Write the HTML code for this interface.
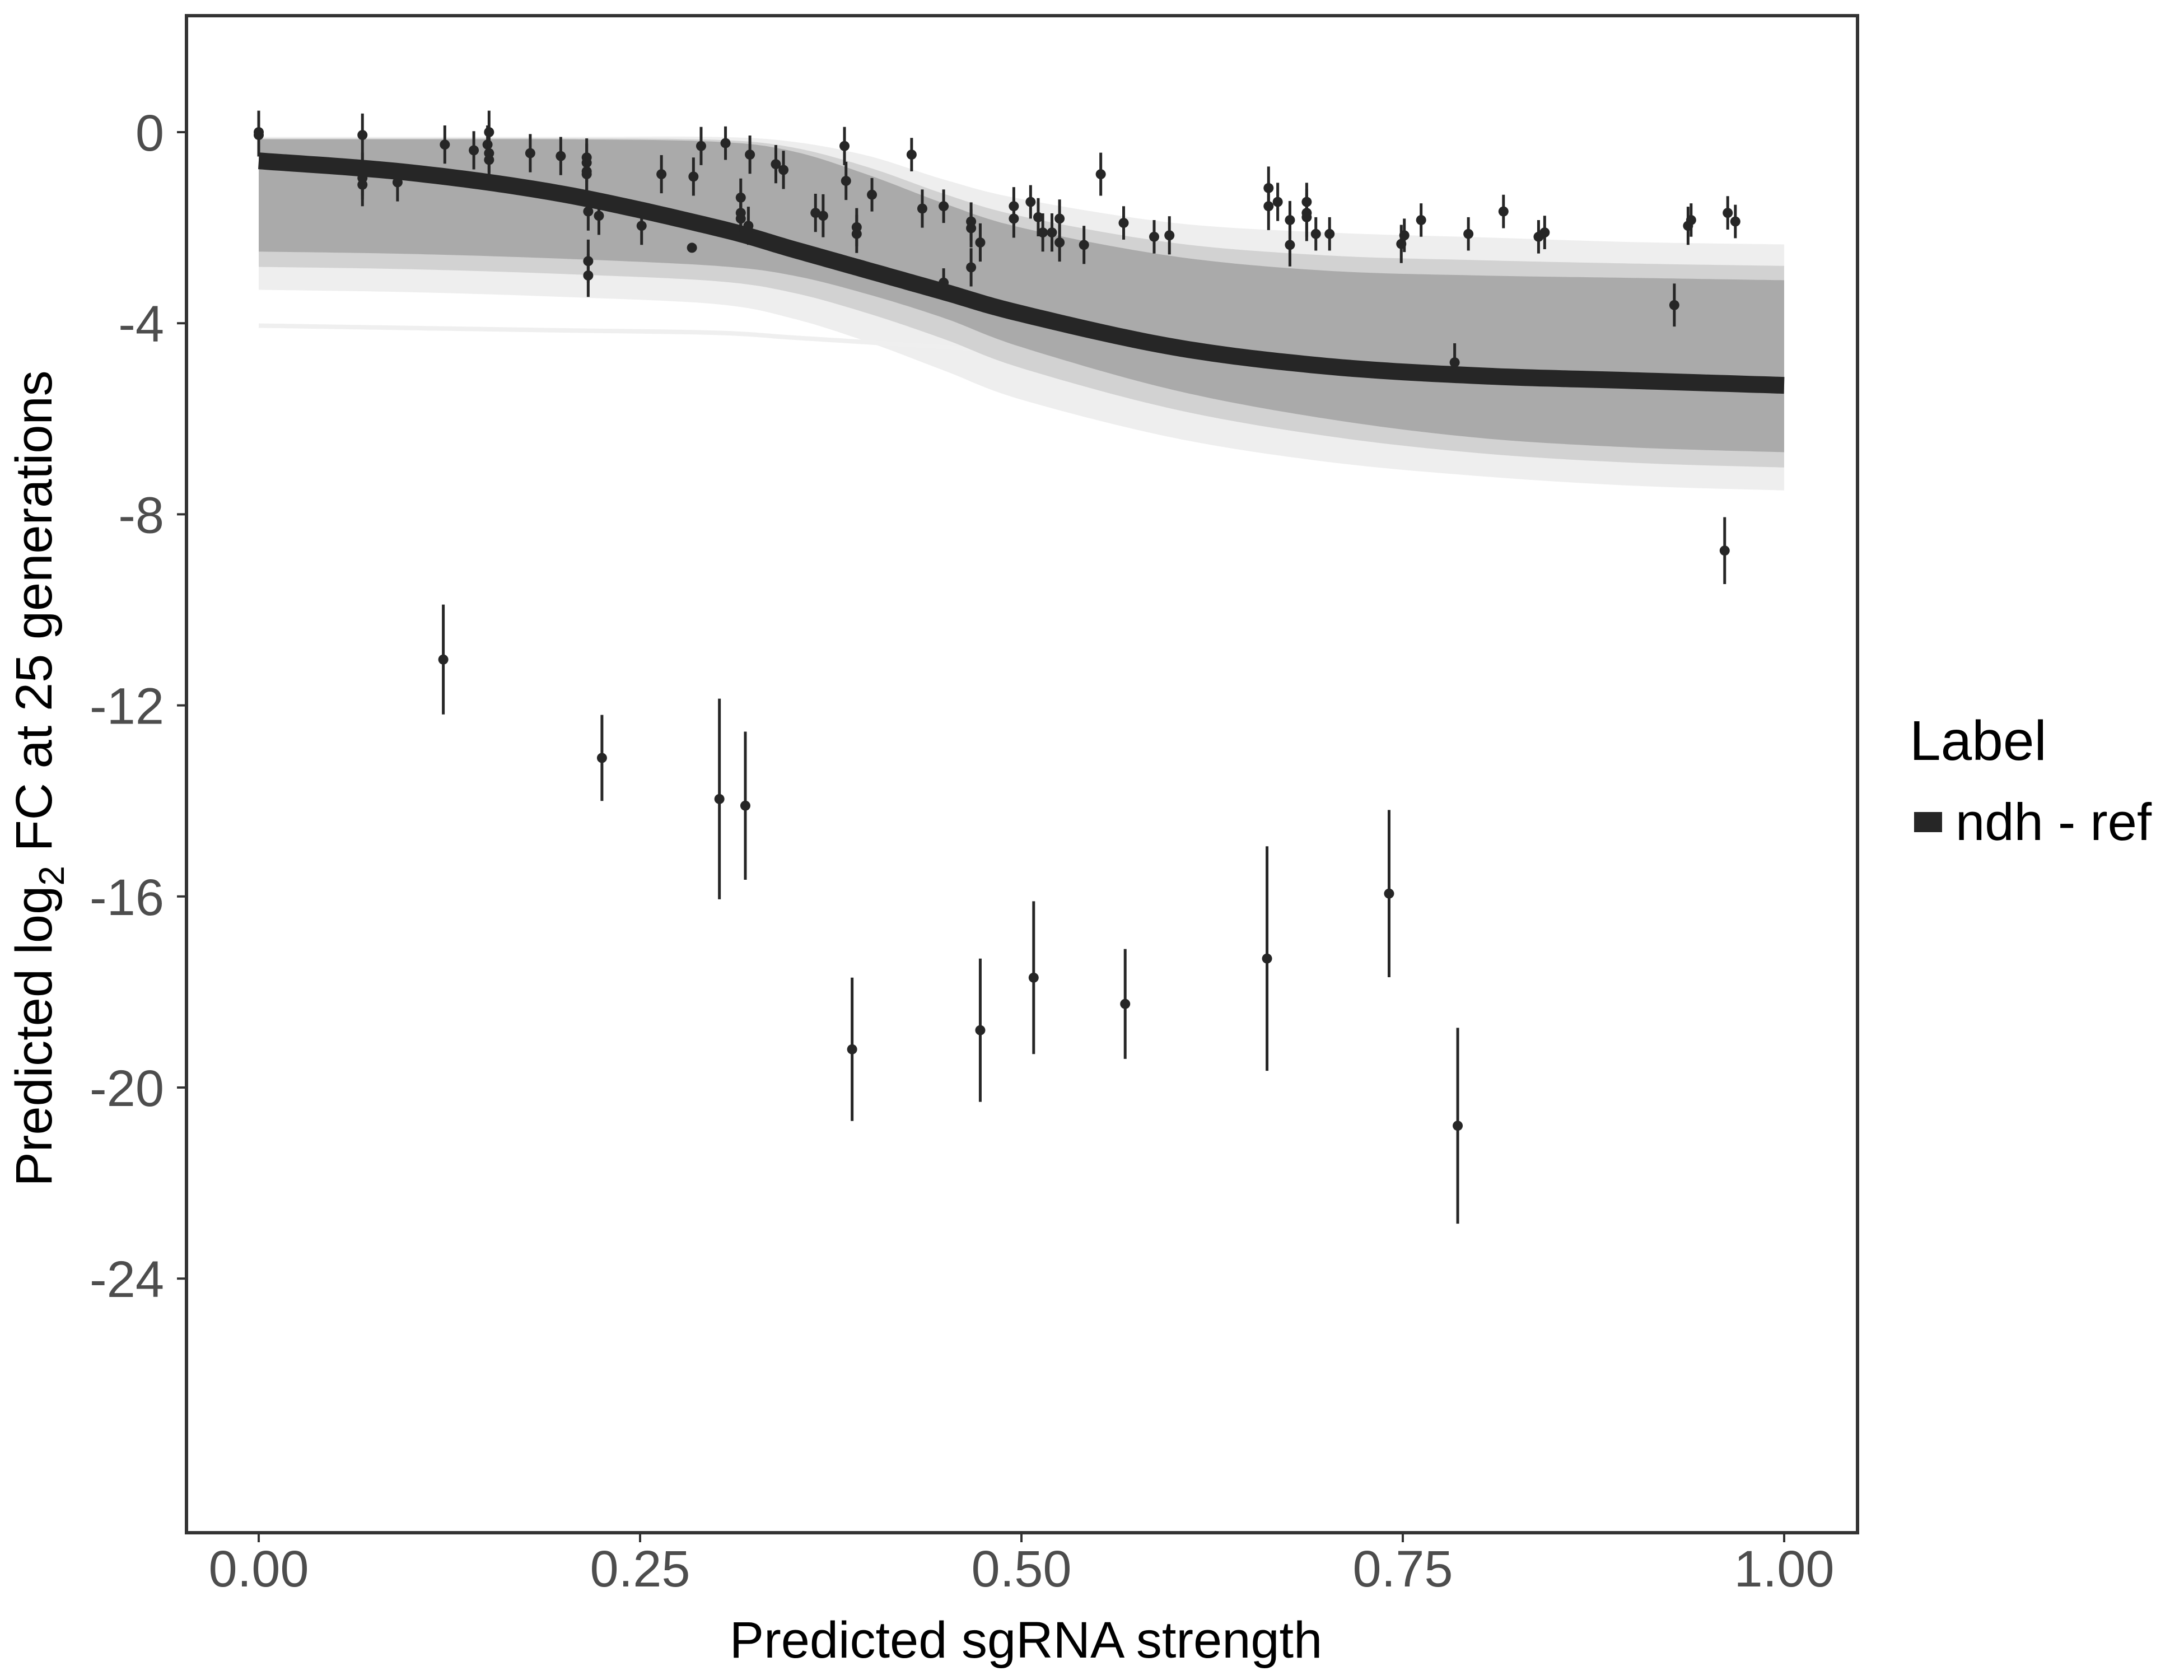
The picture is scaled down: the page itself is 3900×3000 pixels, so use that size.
<!DOCTYPE html>
<html><head><meta charset="utf-8"><style>
html,body{margin:0;padding:0;background:#fff}
svg{display:block;font-family:"Liberation Sans",sans-serif}
</style></head><body>
<svg id="chart" width="3900" height="3000" viewBox="0 0 3900 3000" xmlns="http://www.w3.org/2000/svg">
<defs><clipPath id="clip"><rect x="333" y="28" width="2984" height="2709"/></clipPath></defs>
<rect x="0" y="0" width="3900" height="3000" fill="#fff"/>
<g id="plot" clip-path="url(#clip)"></g>
<rect x="333" y="28" width="2984" height="2709" fill="none" stroke="#333" stroke-width="6"/>
<g id="axes"></g>
<text x="1832" y="2960" font-size="92" text-anchor="middle" fill="#000">Predicted sgRNA strength</text>
<text transform="translate(92,1390) rotate(-90)" font-size="92" text-anchor="middle" fill="#000">Predicted  log<tspan font-size="64" dy="22">2</tspan><tspan dy="-22"> FC at 25 generations</tspan></text>
<text x="3410" y="1357" font-size="100" fill="#000">Label</text>
<rect x="3418" y="1450" width="50" height="36" fill="#262626"/>
<text x="3492" y="1500" font-size="94" fill="#000">ndh - ref</text>
</svg>
<script>
const xTicks=[0,0.25,0.5,0.75,1];
const xTickLabels=["0.00","0.25","0.50","0.75","1.00"];
const yTicks=[0,-4,-8,-12,-16,-20,-24];
const yTickLabels=["0","-4","-8","-12","-16","-20","-24"];
const bandX=[0,0.1,0.2,0.3,0.35,0.4,0.45,0.5,0.6,0.7,0.8,0.9,1.0];
const upperFaint=[-0.1,-0.1,-0.1,-0.1,-0.2,-0.5,-1.0,-1.4,-1.9,-2.1,-2.2,-2.3,-2.35];
const upperDense=[-0.15,-0.15,-0.15,-0.2,-0.4,-0.9,-1.5,-2.0,-2.6,-2.9,-3.0,-3.05,-3.1];
const lowerDense=[-2.5,-2.55,-2.65,-2.8,-3.0,-3.4,-3.9,-4.5,-5.4,-6.0,-6.4,-6.6,-6.7];
const lowerFaint=[-3.3,-3.35,-3.45,-3.6,-3.9,-4.4,-5.0,-5.6,-6.4,-6.9,-7.2,-7.4,-7.5];
const strayLine=[-4.05,-4.1,-4.15,-4.2,-4.3,-4.4,-4.5,-4.6,-4.8,-5.0,-5.2,-5.3,-5.4];
const meanLine=[-0.6,-0.85,-1.3,-2.0,-2.45,-2.9,-3.35,-3.8,-4.5,-4.9,-5.1,-5.2,-5.3];
const ptX=[0,0,0.068,0.068,0.068,0.068,0.091,0.122,0.141,0.15,0.151,0.151,0.151,0.178,0.198,0.215,0.215,0.215,0.215,0.216,0.216,0.216,0.223,0.251,0.264,0.285,0.284,0.29,0.306,0.316,0.316,0.316,0.321,0.322,0.339,0.344,0.365,0.37,0.384,0.385,0.392,0.392,0.402,0.428,0.435,0.449,0.449,0.467,0.467,0.467,0.473,0.495,0.495,0.506,0.511,0.514,0.52,0.525,0.525,0.541,0.552,0.567,0.587,0.597,0.662,0.662,0.668,0.676,0.676,0.687,0.687,0.687,0.693,0.702,0.749,0.751,0.762,0.784,0.793,0.816,0.839,0.843,0.928,0.937,0.939,0.963,0.968,0.961,
0.121,0.225,0.302,0.319,0.389,0.473,0.508,0.568,0.661,0.741,0.786];
const ptY=[0,-0.06,-0.06,-0.96,-1.1,-0.88,-1.05,-0.26,-0.38,-0.26,0,-0.44,-0.58,-0.44,-0.5,-0.53,-0.64,-0.82,-0.88,-2.7,-3.0,-1.66,-1.75,-1.96,-0.88,-0.93,-2.42,-0.29,-0.23,-1.37,-1.69,-1.81,-1.96,-0.47,-0.67,-0.79,-1.69,-1.75,-0.29,-1.02,-1.99,-2.13,-1.31,-0.47,-1.6,-1.55,-3.15,-1.87,-2.01,-2.83,-2.31,-1.55,-1.81,-1.46,-1.78,-2.1,-2.1,-1.81,-2.31,-2.36,-0.88,-1.9,-2.19,-2.16,-1.17,-1.55,-1.46,-1.84,-2.36,-1.46,-1.69,-1.78,-2.13,-2.13,-2.34,-2.16,-1.84,-4.82,-2.13,-1.66,-2.19,-2.1,-3.62,-1.96,-1.84,-1.69,-1.87,-8.76,
-11.04,-13.1,-13.96,-14.1,-19.2,-18.8,-17.7,-18.25,-17.3,-15.94,-20.8];
const ptErr=[0.45,0.45,0.45,0.45,0.45,0.45,0.4,0.4,0.4,0.4,0.45,0.4,0.4,0.4,0.4,0.4,0.4,0.4,0.4,0.45,0.45,0.4,0.4,0.4,0.4,0.4,0.1,0.4,0.35,0.4,0.4,0.4,0.4,0.4,0.4,0.4,0.4,0.45,0.4,0.4,0.4,0.4,0.35,0.35,0.4,0.35,0.3,0.4,0.4,0.4,0.4,0.4,0.4,0.35,0.4,0.4,0.4,0.4,0.4,0.4,0.45,0.35,0.35,0.4,0.45,0.5,0.4,0.4,0.45,0.4,0.5,0.5,0.35,0.35,0.4,0.35,0.35,0.4,0.35,0.35,0.35,0.35,0.45,0.4,0.35,0.35,0.35,0.7,
1.15,0.9,2.1,1.55,1.5,1.5,1.6,1.15,2.35,1.75,2.05];

const NS="http://www.w3.org/2000/svg";
const X0=462,XW=2724,Y0=236,YU=85.3;
function sx(v){return X0+v*XW;}
function sy(v){return Y0-v*YU;}
function smoothPts(xsArr,ysArr){
  const out=[];
  for(let i=0;i<xsArr.length-1;i++){
    const p0=i>0?i-1:i,p3=i+2<xsArr.length?i+2:i+1;
    for(let t=0;t<1;t+=0.05){
      const t2=t*t,t3=t2*t;
      const f=(a,b,c,d)=>0.5*((2*b)+(-a+c)*t+(2*a-5*b+4*c-d)*t2+(-a+3*b-3*c+d)*t3);
      out.push([sx(f(xsArr[p0],xsArr[i],xsArr[i+1],xsArr[p3])),sy(f(ysArr[p0],ysArr[i],ysArr[i+1],ysArr[p3]))]);
    }
  }
  out.push([sx(xsArr[xsArr.length-1]),sy(ysArr[ysArr.length-1])]);
  return out;
}
function bandPath(up,lo){
  const a=smoothPts(bandX,up),b=smoothPts(bandX,lo).reverse();
  return "M"+a.concat(b).map(p=>p[0].toFixed(1)+","+p[1].toFixed(1)).join("L")+"Z";
}
function linePath(ys){return "M"+smoothPts(bandX,ys).map(p=>p[0].toFixed(1)+","+p[1].toFixed(1)).join("L");}
const plot=document.getElementById("plot");
const axes=document.getElementById("axes");

const faint=document.createElementNS(NS,"path");


faint.setAttribute("d",bandPath(upperFaint,lowerFaint));faint.setAttribute("fill","#eeeeee");
plot.appendChild(faint);
const stray=document.createElementNS(NS,"path");


stray.setAttribute("d",linePath(strayLine));stray.setAttribute("fill","none");stray.setAttribute("stroke","#efefef");stray.setAttribute("stroke-width","8");
plot.appendChild(stray);
const mid=document.createElementNS(NS,"path");


const midUp=upperDense.map((v,i)=>(v*0.6+upperFaint[i]*0.4));
const midLo=lowerDense.map((v,i)=>(v*0.6+lowerFaint[i]*0.4));
mid.setAttribute("d",bandPath(midUp,midLo));mid.setAttribute("fill","#d2d2d2");
plot.appendChild(mid);
const dense=document.createElementNS(NS,"path");


dense.setAttribute("d",bandPath(upperDense,lowerDense));dense.setAttribute("fill","#aaaaaa");
plot.appendChild(dense);
const mean=document.createElementNS(NS,"path");


mean.setAttribute("d",linePath(meanLine));mean.setAttribute("fill","none");mean.setAttribute("stroke","#262626");mean.setAttribute("stroke-width","30");
plot.appendChild(mean);

for(let i=0;i<ptX.length;i++){
  const g=document.createElementNS(NS,"g");
  
  
  const l=document.createElementNS(NS,"line");
  
  
  l.setAttribute("x1",sx(ptX[i]));l.setAttribute("x2",sx(ptX[i]));
  l.setAttribute("y1",sy(ptY[i]+ptErr[i]));l.setAttribute("y2",sy(ptY[i]-ptErr[i]));
  l.setAttribute("stroke","#262626");l.setAttribute("stroke-width","5");
  g.appendChild(l);
  const c=document.createElementNS(NS,"circle");
  
  
  c.setAttribute("cx",sx(ptX[i]));c.setAttribute("cy",sy(ptY[i]));c.setAttribute("r","9");c.setAttribute("fill","#262626");
  g.appendChild(c);
  plot.appendChild(g);
}

xTicks.forEach((v,i)=>{
  const t=document.createElementNS(NS,"line");
  
  
  t.setAttribute("x1",sx(v));t.setAttribute("x2",sx(v));t.setAttribute("y1",2740);t.setAttribute("y2",2754);
  t.setAttribute("stroke","#333");t.setAttribute("stroke-width","4");axes.appendChild(t);
  const tx=document.createElementNS(NS,"text");
  
  
  tx.setAttribute("x",sx(v));tx.setAttribute("y",2833);tx.setAttribute("font-size","92");
  tx.setAttribute("text-anchor","middle");tx.setAttribute("fill","#4d4d4d");tx.textContent=xTickLabels[i];axes.appendChild(tx);
});
yTicks.forEach((v,i)=>{
  const t=document.createElementNS(NS,"line");
  
  
  t.setAttribute("x1",316);t.setAttribute("x2",330);t.setAttribute("y1",sy(v));t.setAttribute("y2",sy(v));
  t.setAttribute("stroke","#333");t.setAttribute("stroke-width","4");axes.appendChild(t);
  const tx=document.createElementNS(NS,"text");
  
  
  tx.setAttribute("x",293);tx.setAttribute("y",sy(v)+33);tx.setAttribute("font-size","92");
  tx.setAttribute("text-anchor","end");tx.setAttribute("fill","#4d4d4d");tx.textContent=yTickLabels[i];axes.appendChild(tx);
});
</script>
</body></html>
